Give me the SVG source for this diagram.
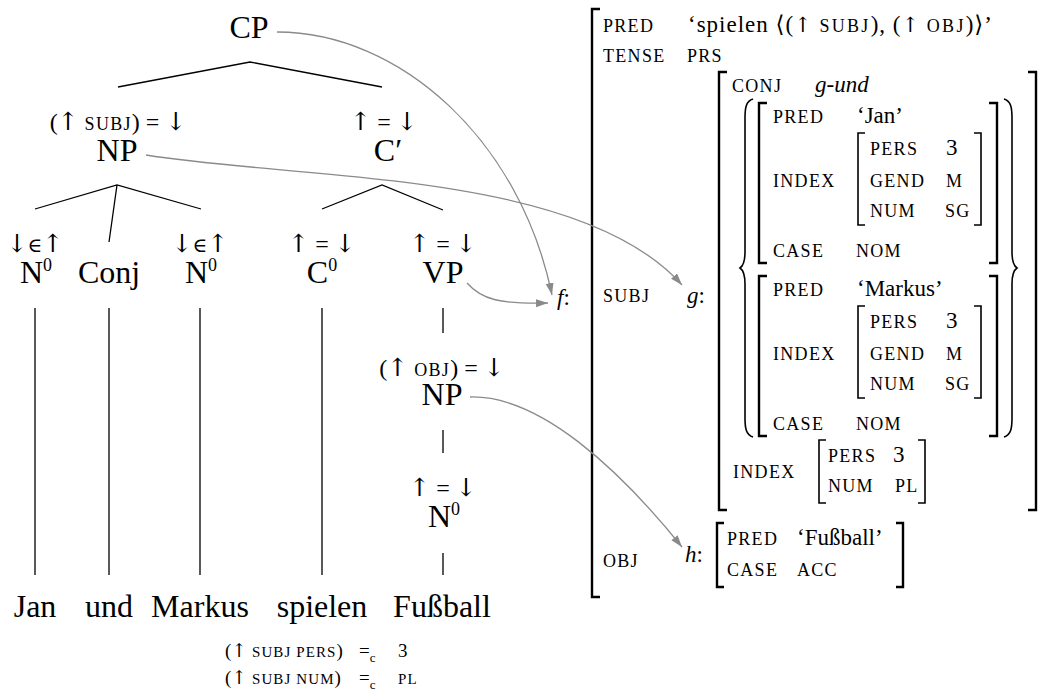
<svg xmlns="http://www.w3.org/2000/svg" width="1045" height="694" viewBox="0 0 1045 694">
<defs>
<style>
text{font-family:"Liberation Serif","DejaVu Serif",serif;fill:#000}
.lab{font-size:32px;text-anchor:middle}
.ann{font-size:24px;text-anchor:middle}
.ar{font-family:"DejaVu Serif",serif;font-weight:normal}
.sc{font-size:18px;letter-spacing:1.3px}
.scs{font-size:15px;letter-spacing:1.1px}
.val{font-size:23px}
.it{font-style:italic}
.edge{stroke:#000;stroke-width:1.3;fill:none}
.br{fill:none;stroke:#000;stroke-width:2.4}
.brs{fill:none;stroke:#000;stroke-width:1.6}
.conn{fill:none;stroke:#8a8a8a;stroke-width:1.3}
</style>
<marker id="ah" markerUnits="userSpaceOnUse" markerWidth="13" markerHeight="9" refX="12" refY="4" orient="auto">
<path d="M0,0 L12,4 L0,8 z" fill="#8a8a8a"/>
</marker>
</defs>

<!-- tree edges -->
<g id="tree-edges">
<path class="edge" d="M118,87 L250,62 L382,87"/>
<path class="edge" d="M35,209 L117,185 L201,209 M117,185 L109,242"/>
<path class="edge" d="M322,209 L382,185 L443,210"/>
<path class="edge" d="M35,308 V575 M109,308 V575 M200,308 V575 M322,308 V575"/>
<path class="edge" d="M443,308 V333 M443,430 V453 M443,553 V575"/>
</g>

<g id="n-CP"><text class="lab" x="249" y="38">CP</text></g>
<g id="n-NP-subj">
<text class="ann" x="118" y="130">(<tspan class="ar" font-size="25">↑</tspan> <tspan class="sc" font-size="18">SUBJ</tspan>) = <tspan class="ar" font-size="25">↓</tspan></text>
<text class="lab" x="117" y="161">NP</text>
</g>
<g id="n-Cbar">
<text class="ann" x="384" y="130"><tspan class="ar" font-size="25">↑</tspan> = <tspan class="ar" font-size="25">↓</tspan></text>
<text class="lab" x="388" y="161">C′</text>
</g>
<g id="n-N0-1">
<text class="ann" x="35" y="252"><tspan class="ar" font-size="25">↓</tspan><tspan class="ar" font-size="20">∈</tspan><tspan class="ar" font-size="25">↑</tspan></text>
<text class="lab" x="36" y="283">N<tspan font-size="18" dy="-12">0</tspan></text>
</g>
<g id="n-Conj"><text class="lab" x="109" y="283">Conj</text></g>
<g id="n-N0-2">
<text class="ann" x="200" y="252"><tspan class="ar" font-size="25">↓</tspan><tspan class="ar" font-size="20">∈</tspan><tspan class="ar" font-size="25">↑</tspan></text>
<text class="lab" x="201" y="283">N<tspan font-size="18" dy="-12">0</tspan></text>
</g>
<g id="n-C0">
<text class="ann" x="322" y="252"><tspan class="ar" font-size="25">↑</tspan> = <tspan class="ar" font-size="25">↓</tspan></text>
<text class="lab" x="322" y="283">C<tspan font-size="18" dy="-12">0</tspan></text>
</g>
<g id="n-VP">
<text class="ann" x="443" y="252"><tspan class="ar" font-size="25">↑</tspan> = <tspan class="ar" font-size="25">↓</tspan></text>
<text class="lab" x="443" y="283">VP</text>
</g>
<g id="n-NP-obj">
<text class="ann" x="442" y="376">(<tspan class="ar" font-size="25">↑</tspan> <tspan class="sc" font-size="18">OBJ</tspan>) = <tspan class="ar" font-size="25">↓</tspan></text>
<text class="lab" x="442" y="405">NP</text>
</g>
<g id="n-N0-3">
<text class="ann" x="443" y="496"><tspan class="ar" font-size="25">↑</tspan> = <tspan class="ar" font-size="25">↓</tspan></text>
<text class="lab" x="444" y="527">N<tspan font-size="18" dy="-12">0</tspan></text>
</g>
<g id="words">
<text class="lab" x="35" y="617">Jan</text>
<text class="lab" x="109" y="617">und</text>
<text class="lab" x="200" y="617">Markus</text>
<text class="lab" x="322" y="617">spielen</text>
<text class="lab" x="442" y="617">Fußball</text>
</g>
<g id="constraints">
<text x="225" y="657" font-size="19">(<tspan class="ar">↑</tspan> <tspan class="scs">SUBJ PERS</tspan>)</text>
<text x="359" y="657" font-size="19">=<tspan font-size="13" dy="5">c</tspan></text>
<text x="398" y="657" font-size="19">3</text>
<text x="225" y="684" font-size="19">(<tspan class="ar">↑</tspan> <tspan class="scs">SUBJ NUM</tspan>)</text>
<text x="359" y="684" font-size="19">=<tspan font-size="13" dy="5">c</tspan></text>
<text x="398" y="684" class="scs">PL</text>
</g>

<!-- f-structure -->
<g id="f-structure">
<text x="557" y="305" class="val"><tspan class="it">f</tspan>:</text>
<path class="br" d="M600,9 H592 V597 H600"/>
<text x="603" y="32" class="sc">PRED</text>
<text x="688" y="32" class="val" textLength="304" lengthAdjust="spacing">‘spielen ⟨(<tspan class="ar" font-size="21">↑</tspan> <tspan class="sc">SUBJ</tspan>), (<tspan class="ar" font-size="21">↑</tspan> <tspan class="sc">OBJ</tspan>)⟩’</text>
<text x="603" y="62" class="sc">TENSE</text>
<text x="687" y="62" class="sc">PRS</text>
<text x="603" y="302" class="sc">SUBJ</text>
<text x="603" y="567" class="sc">OBJ</text>
</g>

<g id="g-structure">
<text x="687" y="303" class="val"><tspan class="it">g</tspan>:</text>
<path class="br" d="M727,72 H719 V510 H727"/>
<path class="br" d="M1028,72 H1036 V510 H1028"/>
<text x="732" y="92" class="sc">CONJ</text>
<text x="815" y="92" class="val it">g-und</text>
<path class="brs" d="M753,99 C746,101 745,108 745,118 V252 C745,262 743,266 740,268 C743,270 745,274 745,284 V418 C745,428 746,435 753,437"/>
<path class="brs" d="M1004,99 C1011,101 1012,108 1012,118 V252 C1012,262 1014,266 1017,268 C1014,270 1012,274 1012,284 V418 C1012,428 1011,435 1004,437"/>
<text x="733" y="478" class="sc">INDEX</text>
<path class="brs" d="M826,440 H819 V503 H826"/>
<path class="brs" d="M918,440 H925 V503 H918"/>
<text x="828" y="462" class="sc">PERS</text>
<text x="893" y="462" class="val">3</text>
<text x="828" y="492" class="sc">NUM</text>
<text x="895" y="492" class="sc">PL</text>
</g>

<g id="jan">
<path class="br" d="M767,103 H759 V263 H767"/>
<path class="br" d="M989,103 H997 V263 H989"/>
<text x="773" y="123" class="sc">PRED</text>
<text x="857" y="123" class="val">‘Jan’</text>
<text x="773" y="187" class="sc">INDEX</text>
<path class="brs" d="M865,133 H858 V225 H865"/>
<path class="brs" d="M974,133 H981 V225 H974"/>
<text x="870" y="155" class="sc">PERS</text>
<text x="946" y="155" class="val">3</text>
<text x="870" y="187" class="sc">GEND</text>
<text x="946" y="187" class="sc">M</text>
<text x="870" y="217" class="sc">NUM</text>
<text x="945" y="217" class="sc">SG</text>
<text x="773" y="257" class="sc">CASE</text>
<text x="856" y="257" class="sc">NOM</text>
</g>

<g id="markus">
<path class="br" d="M767,276 H759 V436 H767"/>
<path class="br" d="M989,276 H997 V436 H989"/>
<text x="773" y="296" class="sc">PRED</text>
<text x="857" y="296" class="val">‘Markus’</text>
<text x="773" y="360" class="sc">INDEX</text>
<path class="brs" d="M865,306 H858 V398 H865"/>
<path class="brs" d="M974,306 H981 V398 H974"/>
<text x="870" y="328" class="sc">PERS</text>
<text x="946" y="328" class="val">3</text>
<text x="870" y="360" class="sc">GEND</text>
<text x="946" y="360" class="sc">M</text>
<text x="870" y="390" class="sc">NUM</text>
<text x="945" y="390" class="sc">SG</text>
<text x="773" y="430" class="sc">CASE</text>
<text x="856" y="430" class="sc">NOM</text>
</g>

<g id="h-structure">
<text x="685" y="562" class="val"><tspan class="it">h</tspan>:</text>
<path class="br" d="M724,523 H717 V587 H724"/>
<path class="br" d="M896,523 H903 V587 H896"/>
<text x="727" y="545" class="sc">PRED</text>
<text x="797" y="545" class="val">‘Fußball’</text>
<text x="727" y="576" class="sc">CASE</text>
<text x="797" y="576" class="sc">ACC</text>
</g>

<g id="connectors">
<path class="conn" marker-end="url(#ah)" d="M277,32 C400,32 520,140 552,295"/>
<path class="conn" marker-end="url(#ah)" d="M146,155 C300,180 580,170 682,285"/>
<path class="conn" marker-end="url(#ah)" d="M467,283 C482,300 500,304 548,303"/>
<path class="conn" marker-end="url(#ah)" d="M470,397 C540,395 620,470 682,547"/>
</g>
</svg>
